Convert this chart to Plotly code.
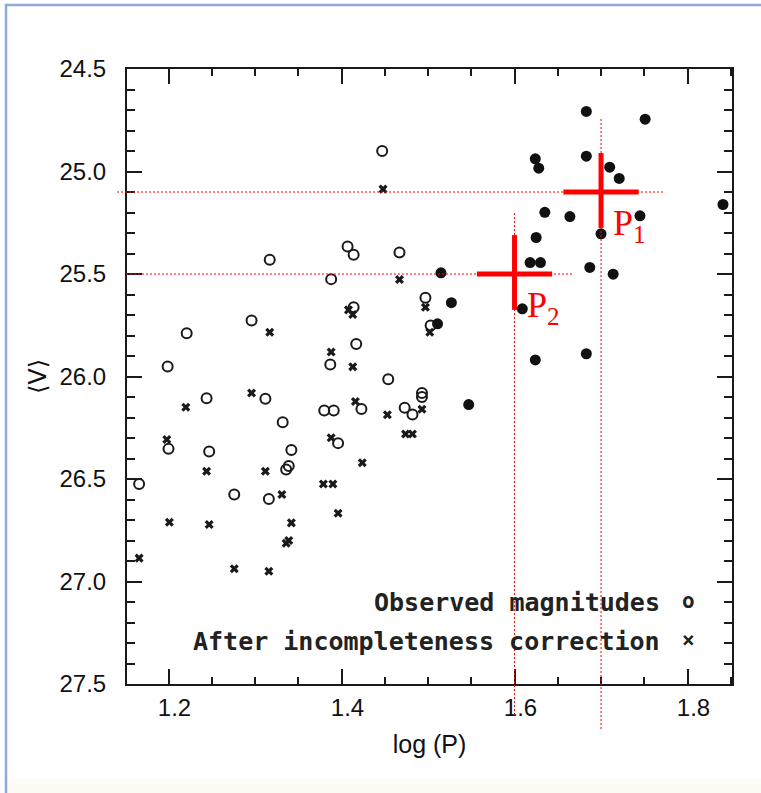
import plotly.graph_objects as go

# ---------------- data ----------------
# Observed magnitudes (open circles)
obs_logP = [1.447, 1.407, 1.414, 1.467, 1.317, 1.388, 1.414, 1.296, 1.221, 1.417,
            1.199, 1.387, 1.454, 1.497, 1.503, 1.493, 1.493, 1.473, 1.482, 1.312,
            1.244, 1.380, 1.391, 1.423, 1.332, 1.200, 1.396, 1.247, 1.342, 1.339,
            1.336, 1.166, 1.276, 1.316]
obs_V = [24.900, 25.366, 25.406, 25.395, 25.431, 25.525, 25.662, 25.727, 25.789, 25.841,
         25.951, 25.941, 26.013, 25.616, 25.751, 26.080, 26.100, 26.153, 26.185, 26.109,
         26.106, 26.166, 26.166, 26.158, 26.223, 26.353, 26.325, 26.366, 26.358, 26.437,
         26.454, 26.524, 26.576, 26.597]

# After incompleteness correction (crosses)
cor_logP = [1.448, 1.467, 1.408, 1.413, 1.317, 1.388, 1.413, 1.497, 1.502, 1.493,
            1.474, 1.482, 1.296, 1.220, 1.416, 1.453, 1.198, 1.388, 1.424, 1.244,
            1.312, 1.379, 1.390, 1.331, 1.396, 1.201, 1.247, 1.342, 1.339, 1.336,
            1.166, 1.276, 1.316]
cor_V = [25.086, 25.527, 25.675, 25.698, 25.784, 25.880, 25.953, 25.662, 25.784, 26.160,
         26.280, 26.280, 26.081, 26.150, 26.122, 26.187, 26.307, 26.299, 26.421, 26.462,
         26.462, 26.524, 26.524, 26.576, 26.667, 26.711, 26.722, 26.714, 26.800, 26.813,
         26.886, 26.938, 26.950]

# Filled circles
fil_logP = [1.683, 1.751, 1.683, 1.624, 1.628, 1.710, 1.721, 1.841, 1.635, 1.664,
            1.745, 1.700, 1.625, 1.618, 1.630, 1.687, 1.515, 1.714, 1.527, 1.511,
            1.609, 1.683, 1.624, 1.547]
fil_V = [24.707, 24.745, 24.925, 24.938, 24.984, 24.979, 25.034, 25.161, 25.199, 25.220,
         25.216, 25.304, 25.322, 25.444, 25.444, 25.468, 25.494, 25.501, 25.640, 25.743,
         25.670, 25.889, 25.919, 26.137]

# Marked points P1, P2
P_x = [1.7, 1.6]
P_y = [25.1, 25.5]
P_labels = ["P<sub>1</sub>", "P<sub>2</sub>"]

x_ticks = [1.2, 1.4, 1.6, 1.8]
y_ticks = [24.5, 25.0, 25.5, 26.0, 26.5, 27.0, 27.5]
legend_texts = ["Observed magnitudes", "After incompleteness correction"]
legend_syms = ["o", "×"]

# ---------------- layout constants ----------------
W, H = 761, 793
ML, MT = 127, 69
MR = W - 732
MB = H - 684
XR = [1.152, 1.8514]
YR = [27.5, 24.5]
PW, PH = W - ML - MR, H - MT - MB


def px_x(p):  # page pixel -> paper x
    return (p - ML) / PW


def px_y(q):  # page pixel -> paper y
    return (H - MB - q) / PH


def dx_paper(x):
    return (x - XR[0]) / (XR[1] - XR[0])


INK = "#1a1a1a"
RED = "#ff0000"

fig = go.Figure()
fig.add_trace(go.Scatter(x=obs_logP, y=obs_V, mode="markers", name="Observed magnitudes",
                         marker=dict(symbol="circle-open", size=10, color=INK, line=dict(width=2, color=INK))))
fig.add_trace(go.Scatter(x=cor_logP, y=cor_V, mode="markers", name="After incompleteness correction",
                         marker=dict(symbol="x", size=8, color=INK, line=dict(width=0))))
fig.add_trace(go.Scatter(x=fil_logP, y=fil_V, mode="markers", name="filled",
                         marker=dict(symbol="circle", size=11, color="#111")))

shapes = []
# outer slide border and bottom band
shapes.append(dict(type="rect", xref="paper", yref="paper", layer="below",
                   x0=px_x(7), x1=px_x(800), y0=px_y(800), y1=px_y(779),
                   fillcolor="#fdfcf4", line=dict(width=0)))
shapes.append(dict(type="rect", xref="paper", yref="paper",
                   x0=px_x(6), x1=px_x(820), y0=px_y(820), y1=px_y(5),
                   line=dict(color="#8eaadb", width=2.5), fillcolor="rgba(0,0,0,0)"))

# dotted guide lines and red crosses
h_start = [px_x(117), px_x(126)]
h_end = [P_x[0] + 0.072, P_x[1] + 0.067]
v_top = [px_y(117), px_y(213)]
v_bot = [px_y(729), px_y(715)]
for i in range(2):
    shapes.append(dict(type="line", xref="paper", yref="y",
                       x0=h_start[i], x1=dx_paper(h_end[i]), y0=P_y[i], y1=P_y[i],
                       line=dict(color=RED, width=1, dash="2px,2px")))
    shapes.append(dict(type="line", xref="x", yref="paper",
                       x0=P_x[i], x1=P_x[i], y0=v_bot[i], y1=v_top[i],
                       line=dict(color=RED, width=1, dash="2px,2px")))
    shapes.append(dict(type="line", xref="x", yref="y",
                       x0=P_x[i] - 0.0435, x1=P_x[i] + 0.0435, y0=P_y[i], y1=P_y[i],
                       line=dict(color=RED, width=5)))
    shapes.append(dict(type="line", xref="x", yref="y",
                       x0=P_x[i], x1=P_x[i], y0=P_y[i] - 0.19, y1=P_y[i] + 0.175,
                       line=dict(color=RED, width=5)))

annotations = []
for i in range(2):
    annotations.append(dict(x=P_x[i], y=P_y[i], xref="x", yref="y", text=P_labels[i],
                            showarrow=False, xanchor="left", yanchor="middle",
                            xshift=10, yshift=-33,
                            font=dict(family="Liberation Serif, Times New Roman, serif", size=36, color=RED)))

leg_y = [602, 641]
for i in range(2):
    annotations.append(dict(x=px_x(662), y=px_y(leg_y[i]), xref="paper", yref="paper",
                            text=legend_texts[i], showarrow=False, xanchor="right", yanchor="middle",
                            font=dict(family="DejaVu Sans Mono, monospace", size=25, color="#222",
                                      weight="bold")))
    annotations.append(dict(x=px_x(688), y=px_y(leg_y[i] - 1), xref="paper", yref="paper",
                            text=legend_syms[i], showarrow=False, xanchor="center", yanchor="middle",
                            font=dict(family="DejaVu Sans Mono, monospace", size=21, color="#222",
                                      weight="bold")))

axis_common = dict(
    showgrid=False, zeroline=False, showline=True, linecolor=INK, linewidth=2,
    mirror="allticks", ticks="inside", tickcolor=INK, tickwidth=1.5, ticklen=15,
    tickfont=dict(family="Liberation Sans, Arial, sans-serif", size=24, color="#111"),
)

fig.update_layout(
    width=W, height=H,
    margin=dict(l=ML, r=MR, t=MT, b=MB, pad=0),
    paper_bgcolor="white", plot_bgcolor="white",
    showlegend=False,
    shapes=shapes, annotations=annotations,
    xaxis=dict(range=XR, tickvals=x_ticks, ticktext=[f"{v:.1f}" for v in x_ticks],
               ticklabelstandoff=1, ticklabelshift=6,
               minor=dict(ticks="inside", dtick=0.05, tick0=1.2, ticklen=7, tickwidth=1.5, tickcolor=INK),
               title=dict(text="log (P)", standoff=16,
                          font=dict(family="Liberation Sans, Arial, sans-serif", size=25, color="#111")),
               **axis_common),
    yaxis=dict(range=YR, tickvals=y_ticks, ticktext=[f"{v:.1f}" for v in y_ticks],
               ticklabelstandoff=14,
               minor=dict(ticks="inside", dtick=0.1, tick0=24.5, ticklen=8, tickwidth=1.5, tickcolor=INK),
               title=dict(text="⟨V⟩", standoff=6,
                          font=dict(family="DejaVu Sans, sans-serif", size=24, color="#111")),
               **axis_common),
)

fig.write_html("out.html", config={"displayModeBar": False},
               post_script="document.body.style.margin='0';document.body.style.overflow='hidden';")
